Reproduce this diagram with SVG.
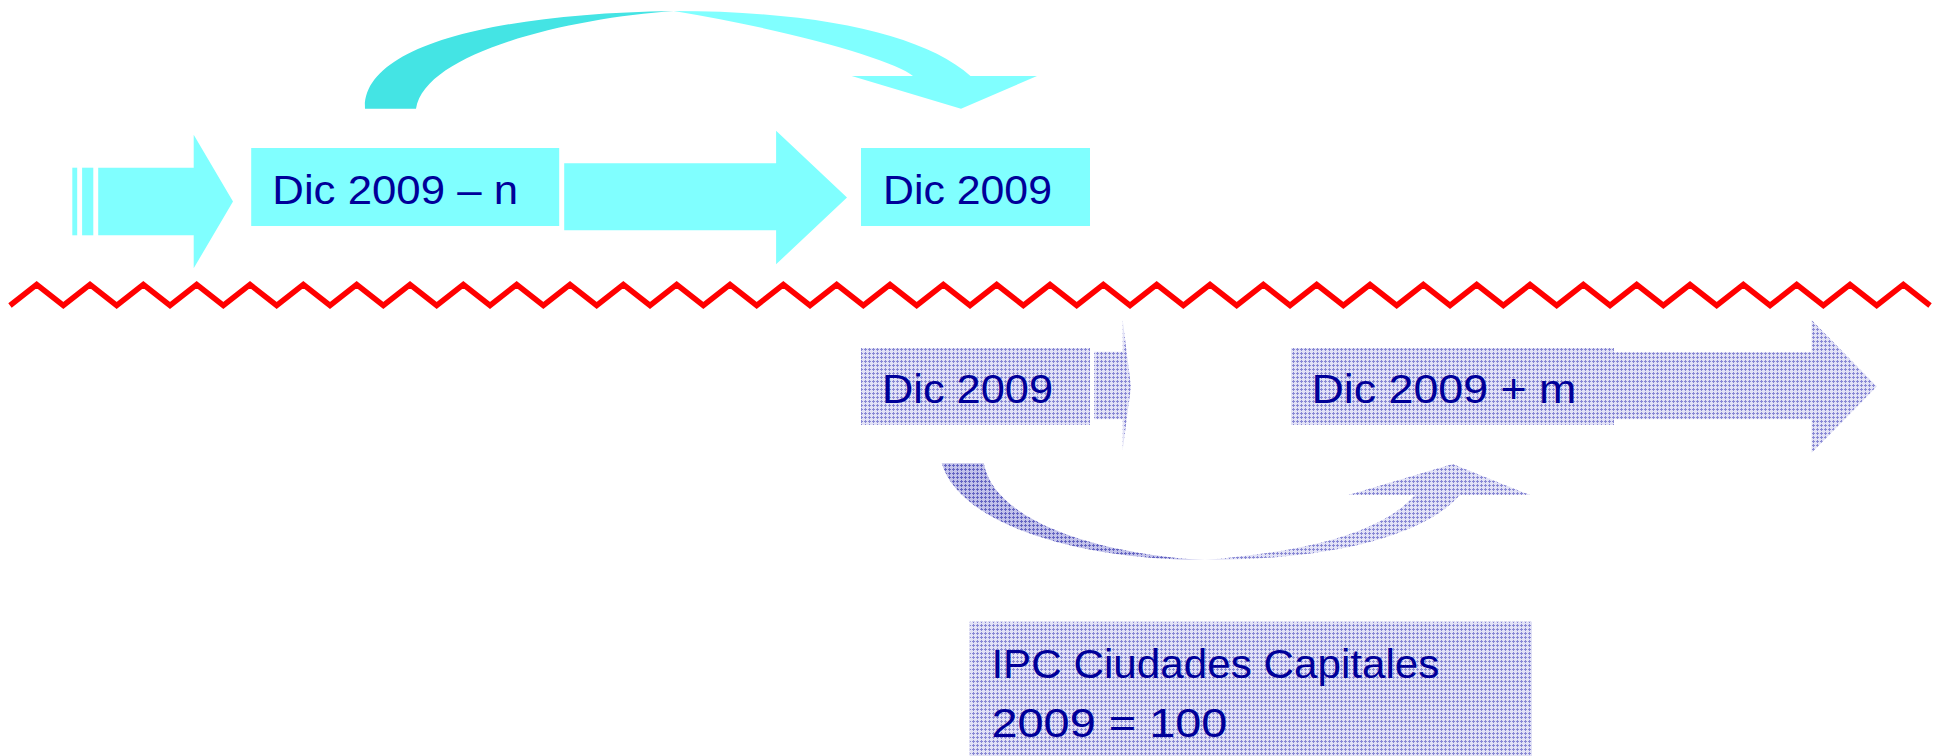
<svg xmlns="http://www.w3.org/2000/svg" width="1942" height="756" viewBox="0 0 1942 756">
<defs>
<pattern id="pat" width="4" height="4" patternUnits="userSpaceOnUse">
<rect width="4" height="4" fill="#E2E2F6"/>
<rect x="1" y="0" width="1" height="3" fill="#8888D4"/>
<rect x="0" y="1" width="3" height="1" fill="#8888D4"/>
</pattern>
<pattern id="patDark" width="4" height="4" patternUnits="userSpaceOnUse">
<rect width="4" height="4" fill="#C2C2EA"/>
<rect x="1" y="0" width="1" height="3" fill="#6464C2"/>
<rect x="0" y="1" width="3" height="1" fill="#6464C2"/>
</pattern>
<style>
.cy{fill:#80FFFF}
.cyd{fill:#44E4E4}
.pt{fill:url(#pat)}
.ptd{fill:url(#patDark)}
.lbl{font-family:"Liberation Sans",Arial,sans-serif;font-size:40px;fill:#000099}
.zz{fill:none;stroke:#FF0000;stroke-width:5.5;stroke-linejoin:miter}
</style>
</defs>
<rect width="1942" height="756" fill="#FFFFFF"/>

<g id="separator">
<path class="zz" d="M10,305.5
l26.667,-21 26.667,21 l26.667,-21 26.667,21 l26.667,-21 26.667,21 l26.667,-21 26.667,21 l26.667,-21 26.667,21 l26.667,-21 26.667,21
l26.667,-21 26.667,21 l26.667,-21 26.667,21 l26.667,-21 26.667,21 l26.667,-21 26.667,21 l26.667,-21 26.667,21 l26.667,-21 26.667,21
l26.667,-21 26.667,21 l26.667,-21 26.667,21 l26.667,-21 26.667,21 l26.667,-21 26.667,21 l26.667,-21 26.667,21 l26.667,-21 26.667,21
l26.667,-21 26.667,21 l26.667,-21 26.667,21 l26.667,-21 26.667,21 l26.667,-21 26.667,21 l26.667,-21 26.667,21 l26.667,-21 26.667,21
l26.667,-21 26.667,21 l26.667,-21 26.667,21 l26.667,-21 26.667,21 l26.667,-21 26.667,21 l26.667,-21 26.667,21 l26.667,-21 26.667,21
l26.667,-21 26.667,21 l26.667,-21 26.667,21 l26.667,-21 26.667,21 l26.667,-21 26.667,21 l26.667,-21 26.667,21 l26.667,-21 26.667,21"/>
</g>

<g id="connectors">
<!-- top row arrows -->
<rect class="cy" x="72.3" y="167.7" width="4.9" height="67.6"/>
<rect class="cy" x="82.1" y="167.7" width="11.2" height="67.6"/>
<polygon class="cy" points="98.2,167.7 193.7,167.7 193.7,134.7 233,201.5 193.7,268.3 193.7,235.3 98.2,235.3"/>
<polygon class="cy" points="564.2,163.3 776.1,163.3 776.1,130.7 847,197.5 776.1,264.3 776.1,230.3 564.2,230.3"/>
<!-- top curved arrow -->
<path class="cyd" d="M365,108.7 C362,50 480,14 673.7,11 C570,18 425,52 416,108.7 Z"/>
<path class="cy" d="M673.7,11 C820,11 925,35 970.5,76 L1037,76 L961,108.7 L851.7,76 L913,76 C895,60 790,30 673.7,11 Z"/>
<!-- bottom row arrows -->
<polygon class="pt" points="1094,351.7 1122.7,351.7 1122.7,320 1131,386.7 1122.7,450 1122.7,419.3 1094,419.3"/>
<polygon class="pt" points="1614,352.3 1811.6,352.3 1811.6,320 1876.8,386.4 1811.6,452.7 1811.6,419.3 1614,419.3"/>
<!-- bottom curved arrow -->
<path class="ptd" d="M941.7,463.3 C960,525 1080,560 1205,560 C1110,555 995,525 983.8,463.3 Z"/>
<path class="pt" d="M1205,560 C1320,560 1420,540 1460,495 L1530,495 L1452.7,464 L1348.3,495 L1415,495 C1380,535 1300,552 1205,560 Z"/>
</g>

<g id="box-dic2009-n">
<rect class="cy" x="251.2" y="148" width="308" height="78"/>
<text class="lbl" x="272.3" y="204" textLength="245.7" lengthAdjust="spacingAndGlyphs">Dic 2009 – n</text>
</g>
<g id="box-dic2009-top">
<rect class="cy" x="861" y="148" width="229" height="78"/>
<text class="lbl" x="883" y="204" textLength="169" lengthAdjust="spacingAndGlyphs">Dic 2009</text>
</g>
<g id="box-dic2009-bottom">
<rect class="pt" x="861" y="348" width="229" height="77"/>
<text class="lbl" x="882" y="402.7" textLength="171" lengthAdjust="spacingAndGlyphs">Dic 2009</text>
</g>
<g id="box-dic2009-m">
<rect class="pt" x="1291" y="348" width="323" height="77"/>
<text class="lbl" x="1311.4" y="402.7" textLength="265" lengthAdjust="spacingAndGlyphs">Dic 2009 + m</text>
</g>
<g id="box-ipc">
<rect class="pt" x="969.7" y="621.7" width="562.3" height="140"/>
<text class="lbl" x="991.4" y="678.3" textLength="448" lengthAdjust="spacingAndGlyphs">IPC Ciudades Capitales</text>
<text class="lbl" x="991.4" y="736.7" textLength="236" lengthAdjust="spacingAndGlyphs">2009 = 100</text>
</g>
</svg>
